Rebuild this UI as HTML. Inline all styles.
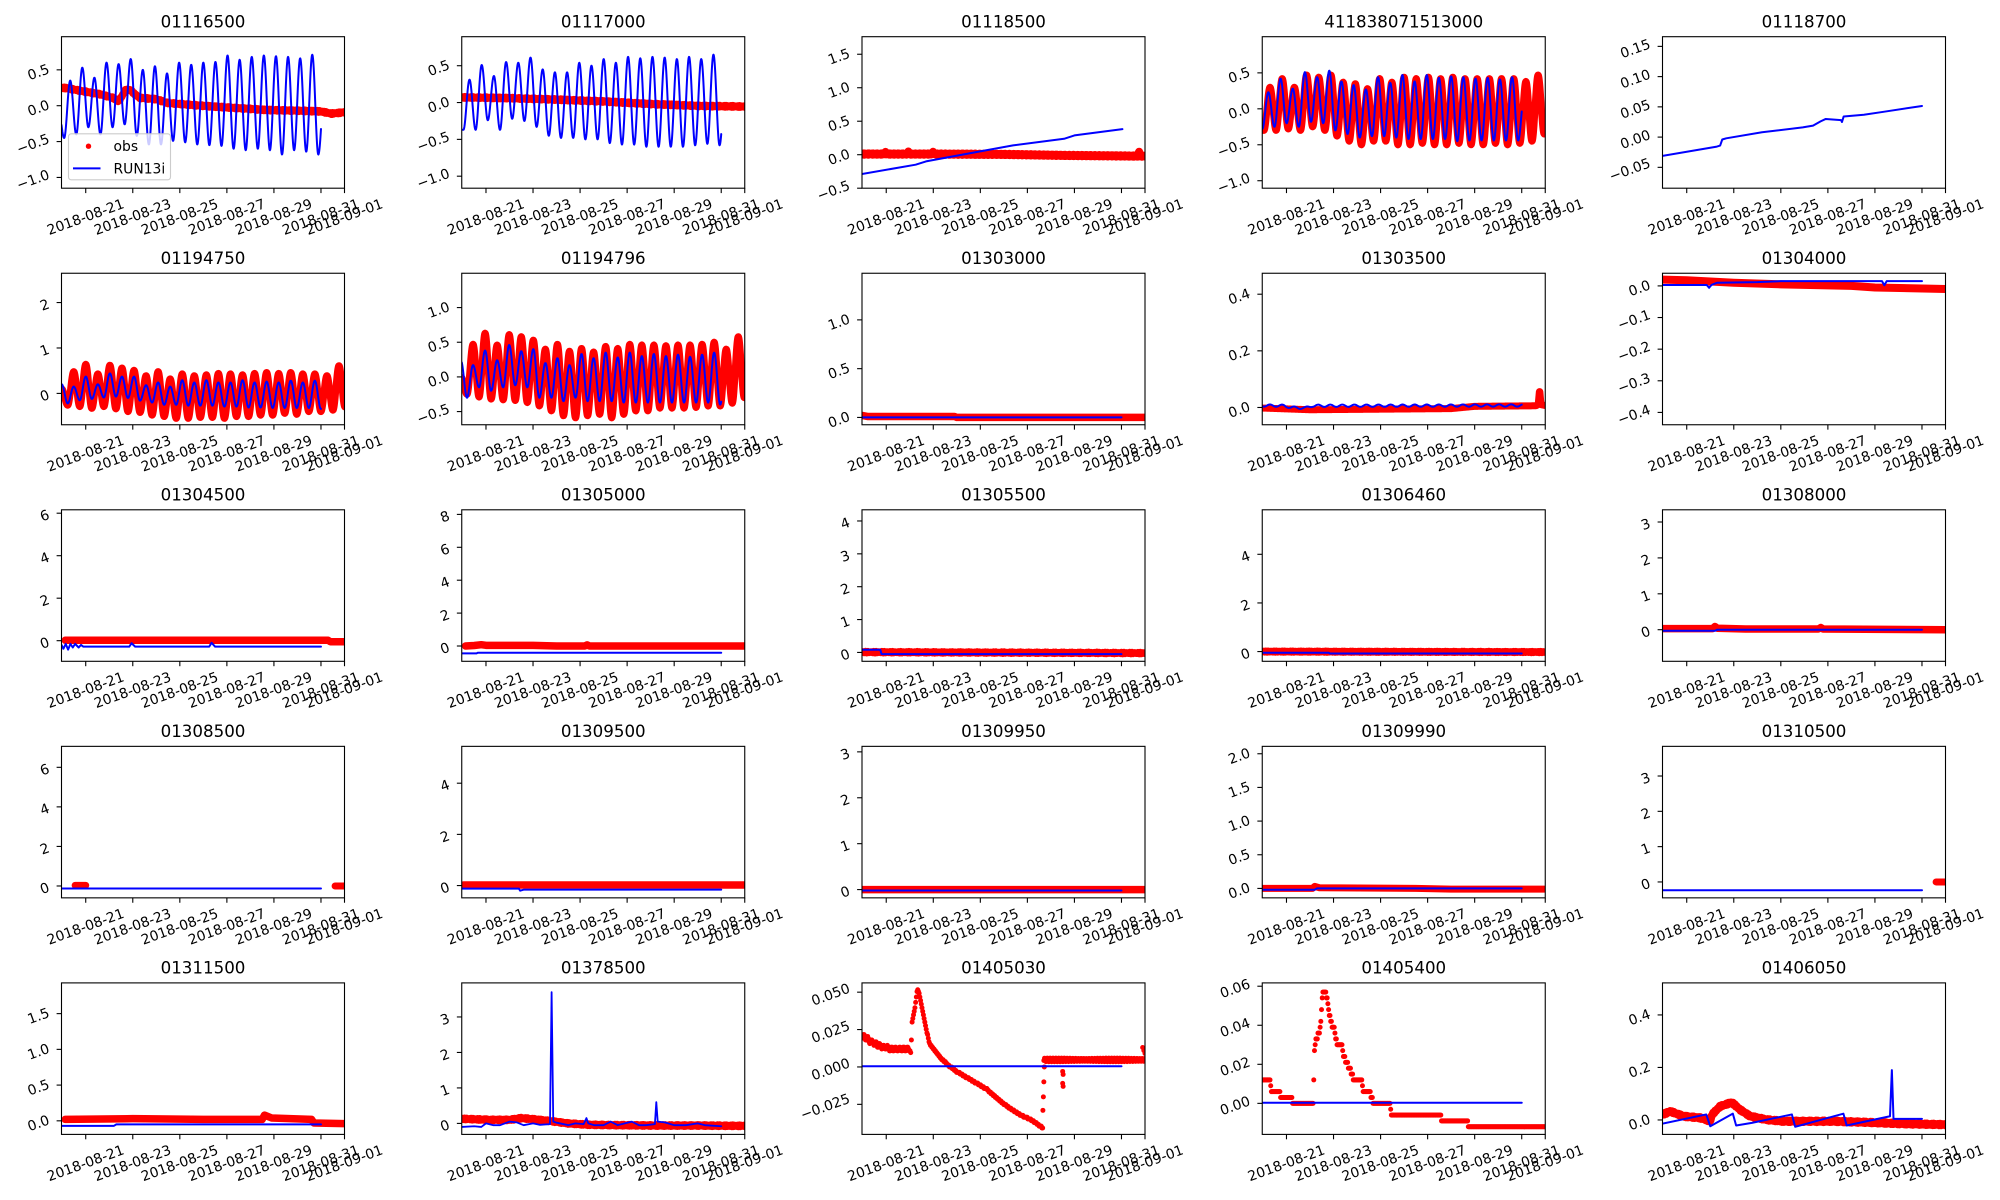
<!DOCTYPE html>
<html><head><meta charset="utf-8"><title>chart</title>
<style>
html,body{margin:0;padding:0;background:#fff;width:2000px;height:1200px;overflow:hidden}
svg{display:block}
text{font-family:"DejaVu Sans","Liberation Sans",sans-serif;fill:#000}
</style></head><body>
<svg id="s" xmlns="http://www.w3.org/2000/svg" width="2000" height="1200" viewBox="0 0 2000 1200"><rect width="2000" height="1200" fill="#fff"/><defs id="df"></defs></svg>
<script>
(function(){
const NS='http://www.w3.org/2000/svg',S=document.getElementById('s'),DF=document.getElementById('df');
function el(tag,at,par){const e=document.createElementNS(NS,tag);for(const k in at)e.setAttribute(k,at[k]);(par||S).appendChild(e);return e;}
const W=283,H=151.5,X0=61.5,DX=400.25,Y0=36.7,DY=236.55,XMIN=-0.03,XMAX=12;
const R='#ff0000',B='#0000ff';
const XT=[[1,'2018-08-21'],[3,'2018-08-23'],[5,'2018-08-25'],[7,'2018-08-27'],[9,'2018-08-29'],[11,'2018-08-31'],[12,'2018-09-01']];
function lin(p){return function(t){if(t<=p[0][0])return p[0][1];for(let i=1;i<p.length;i++){if(t<=p[i][0]){const a=p[i-1],b=p[i],d=b[0]-a[0];return d<=0?b[1]:a[1]+(b[1]-a[1])*(t-a[0])/d;}}return p[p.length-1][1];};}
function osc(t0,P,k0,ex){const h=P/2;const g=k=>ex[Math.max(0,Math.min(ex.length-1,k-k0))];return function(t){const u=(t-t0)/h;const k=Math.floor(u);const s=u-k;const a=g(k),b=g(k+1);return a+(b-a)*(1-Math.cos(Math.PI*s))/2;};}
function samp(f,a,b,dt){const r=[];const n=Math.ceil((b-a)/dt);for(let i=0;i<=n;i++){const t=a+(b-a)*i/n;r.push([t,f(t)]);}return r;}
function ilv(a,b){const r=[];for(let i=0;i<Math.max(a.length,b.length);i++){if(i<a.length)r.push(a[i]);if(i<b.length)r.push(b[i]);}return r;}
const jit=a=>(p,i)=>[p[0],p[1]+a*Math.sin(i*2.71)];
function fmt(v,d){const s=Math.abs(v).toFixed(d);return (v<-1e-12?'\u2212':'')+s;}
const CO=Math.cos(20*Math.PI/180),SI=Math.sin(20*Math.PI/180);
function rlabel(str,mode,a,b){
 const t=el('text',{'text-anchor':'middle','dominant-baseline':'central',style:'font-size:13.9px'});
 t.textContent=str;
 const w=t.getComputedTextLength(),h=16.2;
 const BW=w*CO+h*SI,BH=w*SI+h*CO;
 let px,py;
 if(mode==='x'){px=a;py=b+BH/2;}else{px=b-BW/2;py=a;}
 t.setAttribute('transform','translate('+px.toFixed(2)+','+py.toFixed(2)+') rotate(-20)');
}
const C=[
{t:'01116500',y:[-1.15,0.962],yt:[-1,-0.5,0,0.5],dec:1,leg:true,d:a=>{
 a.pl(samp(lin([[-0.03,0.25],[0.2,0.245],[0.75,0.21],[1.6,0.16],[2.15,0.11],[2.4,0.06],[2.55,0.14],[2.7,0.22],[2.9,0.22],[3.05,0.17],[3.3,0.11],[4.0,0.09],[4.45,0.04],[5.9,0.0],[7.3,-0.03],[8.7,-0.06],[10.1,-0.07],[11.0,-0.08],[11.45,-0.11],[12.05,-0.09]]),-0.03,12.05,0.04).map(jit(0.01)),R,7.5);
 a.pl(samp(osc(0.34,0.5145,-2,[0,-0.45,0.35,-0.4,0.53,-0.3,0.39,-0.4,0.6,-0.3,0.58,-0.26,0.65,-0.42,0.5,-0.54,0.55,-0.54,0.45,-0.49,0.6,-0.51,0.57,-0.54,0.6,-0.55,0.61,-0.56,0.7,-0.6,0.64,-0.62,0.68,-0.6,0.7,-0.62,0.69,-0.68,0.68,-0.62,0.66,-0.64,0.71,-0.68,0.2]),-0.03,11.0,0.01),B,2);
}},
{t:'01117000',y:[-1.163,0.894],yt:[-1,-0.5,0,0.5],dec:1,d:a=>{
 a.pl(samp(lin([[-0.03,0.07],[2,0.06],[4,0.04],[6,0.015],[8,-0.02],[10,-0.045],[12.05,-0.055]]),-0.03,12.05,0.04).map(jit(0.01)),R,7.5);
 a.pl(samp(osc(0.30,0.5185,-1,[-0.37,0.31,-0.37,0.51,-0.24,0.36,-0.37,0.55,-0.22,0.54,-0.25,0.61,-0.33,0.45,-0.45,0.41,-0.48,0.41,-0.48,0.54,-0.5,0.5,-0.5,0.59,-0.55,0.54,-0.57,0.62,-0.57,0.6,-0.6,0.62,-0.6,0.61,-0.6,0.59,-0.6,0.62,-0.58,0.59,-0.56,0.65,-0.58,0.3]),-0.03,11.0,0.01),B,2);
}},
{t:'01118500',y:[-0.5,1.762],yt:[-0.5,0,0.5,1,1.5],dec:1,d:a=>{
 a.pl(samp(lin([[-0.03,0.01],[0.9,0.01],[0.95,0.045],[1.0,0.01],[1.9,0.01],[1.95,0.05],[2.0,0.01],[2.95,0.01],[3.0,0.04],[3.05,0.01],[6,0.005],[8.5,-0.01],[11.5,-0.02],[11.7,-0.02],[11.75,0.05],[11.8,-0.02],[12.05,-0.02]]),-0.03,12.05,0.025).map(jit(0.01)),R,8);
 a.pl([[-0.03,-0.288],[2.25,-0.149],[2.69,-0.1],[4.21,0.0],[6.39,0.139],[8.56,0.238],[9.0,0.288],[11.04,0.382]],B,2);
}},
{t:'411838071513000',y:[-1.104,1.003],yt:[-1,-0.5,0,0.5],dec:1,d:a=>{
 a.pl(samp(osc(0.30,0.518,-1,ilv([-0.3,-0.3,-0.28,-0.3,-0.25,-0.3,-0.38,-0.45,-0.5,-0.45,-0.45,-0.5,-0.5,-0.48,-0.5,-0.5,-0.48,-0.5,-0.5,-0.48,-0.5,-0.48,-0.45,-0.35],[0.3,0.42,0.3,0.47,0.44,0.47,0.37,0.35,0.28,0.42,0.37,0.44,0.42,0.44,0.42,0.44,0.42,0.42,0.42,0.42,0.42,0.38,0.47,0.4])),-0.03,12.05,0.008),R,7);
 a.pl(samp(osc(0.23,0.518,-1,ilv([-0.28,-0.25,-0.2,-0.25,-0.18,-0.2,-0.3,-0.35,-0.4,-0.38,-0.38,-0.4,-0.42,-0.42,-0.42,-0.42,-0.45,-0.44,-0.44,-0.44,-0.44,-0.44],[0.23,0.42,0.28,0.51,0.44,0.53,0.38,0.33,0.27,0.44,0.36,0.47,0.38,0.47,0.43,0.45,0.44,0.42,0.43,0.41,0.44]).concat([0.2])),-0.03,11.0,0.01),B,2);
}},
{t:'01118700',y:[-0.0845,0.166],yt:[-0.05,0,0.05,0.1,0.15],dec:2,d:a=>{
 a.pl([[-0.03,-0.031],[2.25,-0.016],[2.42,-0.014],[2.51,-0.004],[2.68,-0.002],[4.2,0.008],[5.93,0.016],[6.37,0.019],[6.69,0.026],[6.91,0.030],[7.56,0.028],[7.6,0.025],[7.67,0.034],[8.53,0.037],[9.4,0.042],[11.0,0.0515]],B,2);
}},
{t:'01194750',y:[-0.69,2.645],yt:[0,1,2],dec:0,d:a=>{
 a.pl(samp(osc(0.49,0.5125,-2,ilv([0.1,0.48,0.64,0.43,0.62,0.56,0.51,0.39,0.48,0.32,0.43,0.39,0.41,0.44,0.43,0.41,0.44,0.46,0.44,0.46,0.43,0.43,0.39,0.61],[-0.26,-0.29,-0.33,-0.29,-0.34,-0.40,-0.42,-0.48,-0.51,-0.55,-0.55,-0.53,-0.53,-0.55,-0.51,-0.51,-0.48,-0.48,-0.44,-0.46,-0.40,-0.40,-0.37,-0.3])),-0.03,12.05,0.008),R,7);
 a.pl(samp(osc(0.49,0.5125,-2,[0.2,-0.22,0.15,-0.15,0.37,-0.12,0.2,-0.09,0.44,-0.07,0.37,-0.1,0.37,-0.16,0.18,-0.2,0.24,-0.25,0.15,-0.25,0.29,-0.27,0.24,-0.27,0.29,-0.27,0.24,-0.29,0.24,-0.29,0.29,-0.31,0.24,-0.31,0.26,-0.32,0.24,-0.32,0.28,-0.32,0.24,-0.32,0.28,-0.34,0.2]),-0.03,11.0,0.01),B,2);
}},
{t:'01194796',y:[-0.69,1.495],yt:[-0.5,0,0.5,1],dec:1,d:a=>{
 a.pl(samp(osc(0.45,0.5125,-2,ilv([0.0,0.47,0.63,0.46,0.61,0.58,0.53,0.4,0.47,0.37,0.41,0.36,0.44,0.41,0.47,0.46,0.46,0.45,0.46,0.46,0.47,0.5,0.4,0.58],[-0.25,-0.29,-0.32,-0.33,-0.34,-0.37,-0.42,-0.49,-0.56,-0.59,-0.56,-0.54,-0.59,-0.54,-0.49,-0.49,-0.45,-0.45,-0.45,-0.44,-0.42,-0.42,-0.38,-0.3])),-0.03,12.05,0.008),R,7);
 a.pl(samp(osc(0.45,0.5125,-2,[0.23,-0.3,0.17,-0.15,0.38,-0.2,0.24,-0.15,0.46,-0.12,0.37,-0.15,0.4,-0.3,0.2,-0.3,0.27,-0.35,0.17,-0.3,0.33,-0.35,0.27,-0.35,0.35,-0.35,0.28,-0.37,0.35,-0.37,0.3,-0.37,0.33,-0.37,0.3,-0.37,0.32,-0.37,0.29,-0.37,0.32,-0.37,0.35,-0.4,0.2]),-0.03,11.0,0.01),B,2);
}},
{t:'01303000',y:[-0.075,1.478],yt:[0,0.5,1],dec:1,d:a=>{
 a.pl([[-0.03,0.02],[0.2,0.01],[3.9,0.01],[4.0,0.0],[12.05,0.0]],R,7.5);
 a.pl([[-0.03,0.0],[11,0.0]],B,2);
}},
{t:'01303500',y:[-0.061,0.474],yt:[0,0.2,0.4],dec:1,d:a=>{
 a.pl(samp(lin([[-0.03,-0.002],[1,-0.005],[2,-0.008],[8,-0.004],[9,0.004],[11.6,0.006],[11.7,0.01],[11.76,0.065],[11.82,0.01],[12.05,0.006]]),-0.03,12.05,0.02),R,7);
 const m=lin([[-0.03,0.007],[0.9,0.006],[1.2,0.0],[1.8,-0.002],[2.1,0.006],[11,0.007]]);
 a.pl(samp(t=>m(t)+0.004*Math.cos(2*Math.PI*(t-0.3)/0.5125),-0.03,11,0.02),B,2);
}},
{t:'01304000',y:[-0.439,0.04],yt:[-0.4,-0.3,-0.2,-0.1,0],dec:1,d:a=>{
 a.pl([[-0.03,0.02],[1,0.018],[3,0.01],[5,0.005],[8,0.0],[9,-0.005],[12.05,-0.01]],R,8);
 a.pl([[-0.03,0.003],[1.85,0.003],[1.95,-0.006],[2.05,0.003],[2.3,0.01],[4,0.012],[5,0.015],[9.3,0.015],[9.4,0.002],[9.5,0.015],[11,0.015]],B,2);
}},
{t:'01304500',y:[-0.97,6.16],yt:[0,2,4,6],dec:0,d:a=>{
 a.pl([[0.13,0.02],[11.3,0.02],[11.4,-0.05],[12.05,-0.05]],R,7.5);
 a.pl([[-0.03,-0.2],[0.05,-0.38],[0.15,-0.15],[0.25,-0.42],[0.35,-0.15],[0.45,-0.32],[0.55,-0.15],[0.7,-0.32],[0.8,-0.2],[0.9,-0.28],[2.85,-0.28],[2.95,-0.12],[3.1,-0.28],[6.25,-0.28],[6.35,-0.1],[6.5,-0.28],[11,-0.28]],B,2);
}},
{t:'01305000',y:[-0.93,8.28],yt:[0,2,4,6,8],dec:0,d:a=>{
 a.pl([[0.13,0.0],[0.5,0.03],[0.8,0.08],[1.0,0.04],[3.0,0.04],[4.0,0.0],[5.2,0.0],[5.3,0.07],[5.4,0.0],[12.05,0.0]],R,7.5);
 a.pl([[-0.03,-0.45],[0.6,-0.45],[0.65,-0.41],[11,-0.41]],B,2);
}},
{t:'01305500',y:[-0.27,4.34],yt:[0,1,2,3,4],dec:0,d:a=>{
 a.pl(samp(lin([[-0.03,0.01],[4,0.0],[12.05,-0.02]]),-0.03,12.05,0.05).map(jit(0.015)),R,7.5);
 a.pl([[-0.03,0.08],[0.75,0.08],[0.8,-0.05],[11,-0.05]],B,2);
}},
{t:'01306460',y:[-0.4,5.83],yt:[0,2,4],dec:0,d:a=>{
 a.pl(samp(lin([[-0.03,0.0],[12.05,-0.02]]),-0.03,12.05,0.05).map(jit(0.015)),R,7.5);
 a.pl([[-0.03,-0.05],[2.8,-0.05],[2.85,-0.08],[11,-0.08]],B,2);
}},
{t:'01308000',y:[-0.88,3.34],yt:[0,1,2,3],dec:0,d:a=>{
 a.pl([[-0.03,0.03],[2.1,0.03],[2.2,0.09],[2.3,0.04],[3.5,0.02],[6.6,0.02],[6.7,0.06],[6.8,0.02],[12.05,0.0]],R,7.5);
 a.pl([[-0.03,-0.03],[2.2,-0.03],[2.3,0.0],[11,0.0]],B,2);
}},
{t:'01308500',y:[-0.6,7.06],yt:[0,2,4,6],dec:0,d:a=>{
 a.pl([[0.55,0.03],[1.0,0.03]],R,7);
 a.pl([[11.6,0.0],[12.05,0.0]],R,7);
 a.pl([[-0.03,-0.13],[11,-0.13]],B,2);
}},
{t:'01309500',y:[-0.48,5.44],yt:[0,2,4],dec:0,d:a=>{
 a.pl([[0.05,0.02],[12.05,0.02]],R,7.5);
 a.pl([[-0.03,-0.12],[2.4,-0.12],[2.45,-0.2],[2.6,-0.16],[11,-0.16]],B,2);
}},
{t:'01309950',y:[-0.18,3.12],yt:[0,1,2,3],dec:0,d:a=>{
 a.pl([[-0.03,0.0],[12.05,0.0]],R,7.5);
 a.pl([[-0.03,-0.02],[11,-0.02]],B,2);
}},
{t:'01309990',y:[-0.14,2.11],yt:[0,0.5,1,1.5,2],dec:1,d:a=>{
 a.pl([[-0.03,0.0],[2.1,0.0],[2.2,0.03],[2.4,0.01],[6.5,0.0],[8,-0.01],[12.05,-0.01]],R,7);
 a.pl([[-0.03,-0.02],[2.2,-0.02],[2.3,0.0],[11,0.0]],B,2);
}},
{t:'01310500',y:[-0.45,3.84],yt:[0,1,2,3],dec:0,d:a=>{
 a.pl([[-0.03,-0.235],[11,-0.235]],B,2);
 a.pl([[11.6,0.0],[12.05,0.0]],R,7);
}},
{t:'01311500',y:[-0.19,1.93],yt:[0,0.5,1,1.5],dec:1,d:a=>{
 a.pl([[0.13,0.02],[3,0.03],[6,0.02],[8.5,0.02],[8.6,0.08],[8.9,0.04],[10.6,0.02],[10.7,-0.03],[12.05,-0.04]],R,7.5);
 a.pl([[-0.03,-0.07],[2.2,-0.07],[2.3,-0.05],[11,-0.05]],B,2);
}},
{t:'01378500',y:[-0.31,3.96],yt:[0,1,2,3],dec:0,d:a=>{
 a.pl(samp(lin([[-0.03,0.13],[1.2,0.1],[2.0,0.1],[2.5,0.15],[3.0,0.12],[3.8,0.06],[4.5,0.0],[5.4,-0.04],[8,-0.06],[10,-0.06],[12.05,-0.07]]),-0.03,12.05,0.04).map(jit(0.02)),R,7.5);
 a.pl([[-0.03,-0.1],[0.5,-0.08],[0.8,-0.1],[1.0,0.0],[1.3,-0.05],[1.6,-0.05],[2.0,0.05],[2.3,0.03],[2.6,-0.05],[3.0,0.0],[3.3,-0.04],[3.72,-0.02],[3.79,3.7],[3.86,0.05],[4.0,0.02],[4.5,-0.05],[4.8,0.0],[5.15,-0.02],[5.27,0.15],[5.35,0.0],[5.6,-0.05],[6.0,-0.05],[6.3,0.05],[6.6,-0.05],[7.2,0.05],[7.5,-0.05],[7.8,-0.05],[8.18,-0.02],[8.24,0.6],[8.3,0.05],[8.6,0.03],[9,-0.05],[9.5,-0.05],[10,0.0],[10.3,-0.05],[11,-0.08]],B,1.8);
}},
{t:'01405030',y:[-0.0451,0.0562],yt:[-0.025,0,0.025,0.05],dec:3,d:a=>{
 const f=lin([[-0.03,0.021],[0.1,0.02],[0.35,0.017],[0.75,0.014],[1.2,0.012],[2.0,0.012],[2.05,0.009],[2.1,0.03],[2.22,0.039],[2.32,0.052],[2.4,0.049],[2.55,0.037],[2.7,0.025],[2.85,0.015],[3.06,0.011],[3.32,0.006],[3.65,0.001],[3.98,-0.003],[4.63,-0.009],[5.28,-0.015],[5.93,-0.024],[6.58,-0.031],[7.23,-0.036],[7.66,-0.041]]);
 const p=[];
 for(let t=-0.03;t<=7.66;t+=0.03){let v=f(t);if(t<2.0)v+=0.0015*Math.sin(t*37);p.push([t,Math.round(v/0.0012)*0.0012]);}
 for(let t=7.7;t<=12.05;t+=0.03){p.push([t,0.0047+0.0012*Math.sin(t*53)]);}
 p.push([7.66,-0.029],[7.68,-0.02],[7.7,-0.01],[7.72,0.0],[8.5,-0.003],[8.52,-0.005],[8.5,-0.011],[8.52,-0.013],[11.9,0.013],[11.95,0.011],[12,0.009]);
 a.dots(p,2.5);
 a.pl([[-0.03,0.0005],[11,0.0005]],B,2);
}},
{t:'01405400',y:[-0.0159,0.0617],yt:[0,0.02,0.04,0.06],dec:2,d:a=>{
 const f=lin([[-0.03,0.0125],[0.3,0.0125],[0.33,0.009],[0.37,0.006],[0.72,0.006],[0.75,0.003],[1.22,0.003],[1.25,0.0],[2.15,0.0],[2.16,0.012],[2.18,0.025],[2.21,0.031],[2.42,0.037],[2.56,0.059],[2.7,0.055],[2.77,0.05],[2.85,0.044],[2.92,0.04],[3.06,0.037],[3.13,0.031],[3.34,0.031],[3.41,0.025],[3.62,0.019],[3.77,0.016],[3.84,0.012],[4.19,0.012],[4.22,0.009],[4.26,0.006],[4.55,0.006],[4.62,0.003],[4.69,0.0],[5.4,0.0],[5.42,-0.003],[5.47,-0.006],[7.55,-0.006],[7.58,-0.009],[8.7,-0.009],[8.72,-0.012],[12.05,-0.012]]);
 const p=[];
 for(let t=-0.03;t<=12.05;t+=0.03){p.push([t,Math.round(f(t)/0.003)*0.003]);}
 a.dots(p,2.5);
 a.pl([[-0.03,0.0003],[11,0.0003]],B,2);
}},
{t:'01406050',y:[-0.055,0.522],yt:[0,0.2,0.4],dec:1,d:a=>{
 a.pl(samp(lin([[-0.03,0.02],[0.3,0.033],[0.86,0.014],[1.57,0.008],[1.85,0.0],[2.0,-0.005],[2.07,0.02],[2.42,0.052],[2.92,0.067],[3.27,0.039],[3.7,0.014],[4.4,0.001],[5.11,-0.005],[7.24,-0.005],[8.65,-0.009],[10.07,-0.014],[12.05,-0.018]]),-0.03,12.05,0.04).map(jit(0.003)),R,8);
 a.pl([[-0.03,-0.014],[1.83,0.021],[2.0,-0.024],[2.96,0.024],[3.1,-0.021],[3.77,-0.011],[5.47,0.021],[5.61,-0.026],[7.66,0.024],[7.8,-0.021],[9.64,0.014],[9.72,0.19],[9.79,0.004],[11.0,0.004]],B,2);
}}
];
C.forEach((cfg,i)=>{
 const col=i%5,row=Math.floor(i/5);
 const L=X0+col*DX,T=Y0+row*DY;
 const X=d=>L+(d-XMIN)/(XMAX-XMIN)*W;
 const Y=v=>T+(cfg.y[1]-v)/(cfg.y[1]-cfg.y[0])*H;
 const cp=el('clipPath',{id:'c'+i},DF);el('rect',{x:L,y:T,width:W,height:H},cp);
 const g=el('g',{'clip-path':'url(#c'+i+')'});
 const api={
  pl:(pts,color,w)=>el('polyline',{points:pts.map(p=>X(p[0]).toFixed(2)+','+Y(p[1]).toFixed(2)).join(' '),fill:'none',stroke:color,'stroke-width':w,'stroke-linejoin':'round','stroke-linecap':'round'},g),
  dots:(pts,r)=>{pts.forEach(p=>el('circle',{cx:X(p[0]).toFixed(2),cy:Y(p[1]).toFixed(2),r:r,fill:R},g));}
 };
 cfg.d(api);
 el('rect',{x:L,y:T,width:W,height:H,fill:'none',stroke:'#000','stroke-width':1.1});
 const tt=el('text',{x:(L+W/2).toFixed(2),y:(T-9.3).toFixed(2),'text-anchor':'middle',style:'font-size:16.67px'});tt.textContent=cfg.t;
 XT.forEach(([d,lab])=>{const x=X(d);el('line',{x1:x,y1:T+H,x2:x,y2:T+H+4.9,stroke:'#000','stroke-width':1.1});rlabel(lab,'x',x,T+H+8);});
 cfg.yt.forEach(v=>{const y=Y(v);el('line',{x1:L-4.9,y1:y,x2:L,y2:y,stroke:'#000','stroke-width':1.1});rlabel(fmt(v,cfg.dec),'y',y+3,L-9.7);});
 if(cfg.leg){
  el('rect',{x:68.5,y:133.8,width:102,height:46,rx:2.8,fill:'#fff','fill-opacity':0.8,stroke:'#cccccc','stroke-width':1.1});
  el('circle',{cx:88.5,cy:146.2,r:2.7,fill:R});
  let t=el('text',{x:113.5,y:151,style:'font-size:13.9px'});t.textContent='obs';
  el('line',{x1:73,y1:168.4,x2:100.5,y2:168.4,stroke:B,'stroke-width':2});
  t=el('text',{x:113.5,y:173.3,style:'font-size:13.9px'});t.textContent='RUN13i';
 }
});
})();
</script></body></html>
